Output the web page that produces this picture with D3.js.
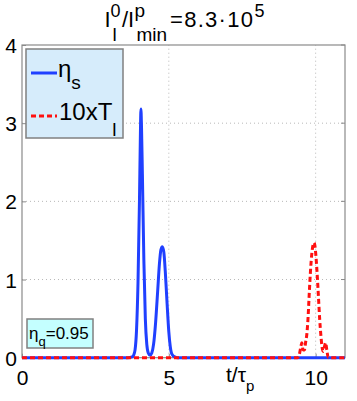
<!DOCTYPE html>
<html>
<head>
<meta charset="utf-8">
<script src="https://cdn.jsdelivr.net/npm/d3@7"></script>
<style>
  body { margin: 0; background: #fff; }
  svg text { font-family: "Liberation Sans", Arial, sans-serif; fill: #000; }
</style>
</head>
<body>
<div id="chart"></div>
<script>
// values
const etaT = [0, 3.6, 3.75, 3.8, 3.85, 3.9, 3.95, 4.0, 4.03, 4.05, 4.07, 4.1, 4.15, 4.2, 4.25, 4.3, 4.36,
  4.42, 4.48, 4.55, 4.62, 4.68, 4.73, 4.78, 4.83, 4.88, 4.94, 5.0, 5.05, 5.1, 5.2, 5.3, 11];
const etaV = [0, 0, 0.01, 0.03, 0.1, 0.35, 0.95, 2.0, 2.8, 3.18, 2.95, 2.35, 1.25, 0.5, 0.17, 0.06, 0.03,
  0.06, 0.17, 0.45, 0.85, 1.2, 1.38, 1.42, 1.35, 1.1, 0.7, 0.33, 0.14, 0.05, 0.01, 0, 0];

const tlT = [0, 9.38, 9.45, 9.5, 9.53, 9.57, 9.62, 9.66, 9.7, 9.74, 9.78, 9.82, 9.87, 9.91, 9.945,
  9.98, 10.02, 10.06, 10.1, 10.14, 10.18, 10.22, 10.26, 10.3, 10.34, 10.38, 10.43, 11];
const tlV = [0, 0, 0.05, 0.15, 0.19, 0.1, 0.1, 0.2, 0.3, 0.5, 0.8, 1.08, 1.33, 1.44, 1.47,
  1.42, 1.25, 1.02, 0.75, 0.48, 0.28, 0.13, 0.08, 0.14, 0.19, 0.1, 0, 0];

const xTicks = [0, 5, 10];
const yTicks = [0, 1, 2, 3, 4];
const xGrid = [5, 10];
const yGrid = [1, 2, 3];

const W = 357, H = 401;
const m = { left: 22, right: 12, top: 45, bottom: 44 };

const svg = d3.select("#chart").append("svg")
  .attr("width", W).attr("height", H);

const x = d3.scaleLinear().domain([0, 11]).range([m.left, W - m.right]);
const y = d3.scaleLinear().domain([0, 4]).range([H - m.bottom + 0.7, m.top]);

// grid
svg.append("g").selectAll("line").data(xGrid).enter().append("line")
  .attr("x1", d => x(d)).attr("x2", d => x(d))
  .attr("y1", y(0)).attr("y2", y(4))
  .attr("stroke", "#b8b8b8").attr("stroke-dasharray", "1,3");
svg.append("g").selectAll("line").data(yGrid).enter().append("line")
  .attr("x1", x(0)).attr("x2", x(11))
  .attr("y1", d => y(d)).attr("y2", d => y(d))
  .attr("stroke", "#b8b8b8").attr("stroke-dasharray", "1,3");

// axes box
svg.append("rect")
  .attr("x", x(0)).attr("y", y(4))
  .attr("width", x(11) - x(0)).attr("height", y(0) - y(4))
  .attr("fill", "none").attr("stroke", "#8a8a8a").attr("stroke-width", 1.2);

const xAxis = svg.append("g")
  .attr("transform", `translate(0,${y(0)})`)
  .call(d3.axisBottom(x).tickValues(xTicks).tickSize(-4).tickPadding(12).tickFormat(d3.format("d")));
const yAxis = svg.append("g")
  .attr("transform", `translate(${x(0)},0)`)
  .call(d3.axisLeft(y).tickValues(yTicks).tickSize(-4).tickPadding(5).tickFormat(d3.format("d")));
[xAxis, yAxis].forEach(a => {
  a.select(".domain").remove();
  a.selectAll(".tick line").attr("stroke", "#8a8a8a");
  a.selectAll("text").style("font-size", "21px").attr("font-family", "Liberation Sans, Arial, sans-serif");
});
xAxis.selectAll("text").attr("dy", "0.71em");
yAxis.selectAll("text").attr("dy", "0.36em");

// right side ticks
svg.append("g").selectAll("line").data(yTicks).enter().append("line")
  .attr("x1", x(11)).attr("x2", x(11) - 4)
  .attr("y1", d => y(d)).attr("y2", d => y(d))
  .attr("stroke", "#8a8a8a");

// lines
const line = (ts, vs) => d3.line()
  .x(i => x(ts[i])).y(i => y(vs[i]))
  .curve(d3.curveMonotoneX)(d3.range(ts.length));

svg.append("path").attr("d", line(etaT, etaV))
  .attr("fill", "none").attr("stroke", "#2040ff").attr("stroke-width", 3);
svg.append("path").attr("d", line(tlT, tlV))
  .attr("fill", "none").attr("stroke", "#ff1010").attr("stroke-width", 3)
  .attr("stroke-dasharray", "5,3");

// x label
const xl = svg.append("text").attr("x", 226).attr("y", 382).style("font-size", "21px");
xl.append("tspan").text("t/τ");
xl.append("tspan").attr("dy", 9).style("font-size", "15px").text("p");

// title: pieces placed so the stacked sub/superscripts don't collide
const title = [
  { t: "I", x: 104.5, y: 27, s: 22 },
  { t: "0", x: 110.5, y: 16.5, s: 18 },
  { t: "l", x: 112.5, y: 41, s: 19 },
  { t: "/I", x: 122, y: 27, s: 22 },
  { t: "p", x: 134.5, y: 16.5, s: 19 },
  { t: "min", x: 136.5, y: 41, s: 19 },
  { t: "=8.3·10", x: 170, y: 27, s: 22, len: 83 },
  { t: "5", x: 254.5, y: 16.5, s: 18 }
];
const tg = svg.append("g");
title.forEach(p => {
  const t = tg.append("text").attr("x", p.x).attr("y", p.y)
    .style("font-size", p.s + "px").text(p.t);
  if (p.len) t.attr("textLength", p.len).attr("lengthAdjust", "spacing");
});

// legend
const lg = svg.append("g");
lg.append("rect").attr("x", 26).attr("y", 49).attr("width", 97).attr("height", 89)
  .attr("fill", "#d6ecfb").attr("stroke", "#808080").attr("stroke-width", 1.5);
lg.append("line").attr("x1", 31).attr("x2", 57).attr("y1", 73).attr("y2", 73)
  .attr("stroke", "#2040ff").attr("stroke-width", 3);
const l1 = lg.append("text").attr("x", 58).attr("y", 77).style("font-size", "24px");
l1.append("tspan").text("η");
l1.append("tspan").attr("dy", 12).style("font-size", "19px").text("s");
lg.append("line").attr("x1", 31).attr("x2", 57).attr("y1", 116).attr("y2", 116)
  .attr("stroke", "#ff1010").attr("stroke-width", 3).attr("stroke-dasharray", "5,3");
const l2 = lg.append("text").attr("x", 59).attr("y", 120).style("font-size", "24px");
l2.append("tspan").text("10xT");
l2.append("tspan").attr("dy", 16).style("font-size", "19px").text("l");

// eta_q box
svg.append("rect").attr("x", 27).attr("y", 319).attr("width", 66).attr("height", 29)
  .attr("fill", "#c4ffff").attr("stroke", "#808080").attr("stroke-width", 1.5);
const eq = svg.append("text").attr("x", 29).attr("y", 339).style("font-size", "17px");
eq.append("tspan").text("η");
eq.append("tspan").attr("dy", 7).style("font-size", "13px").text("q");
eq.append("tspan").attr("dy", -7).text("=0.95");
</script>
</body>
</html>
